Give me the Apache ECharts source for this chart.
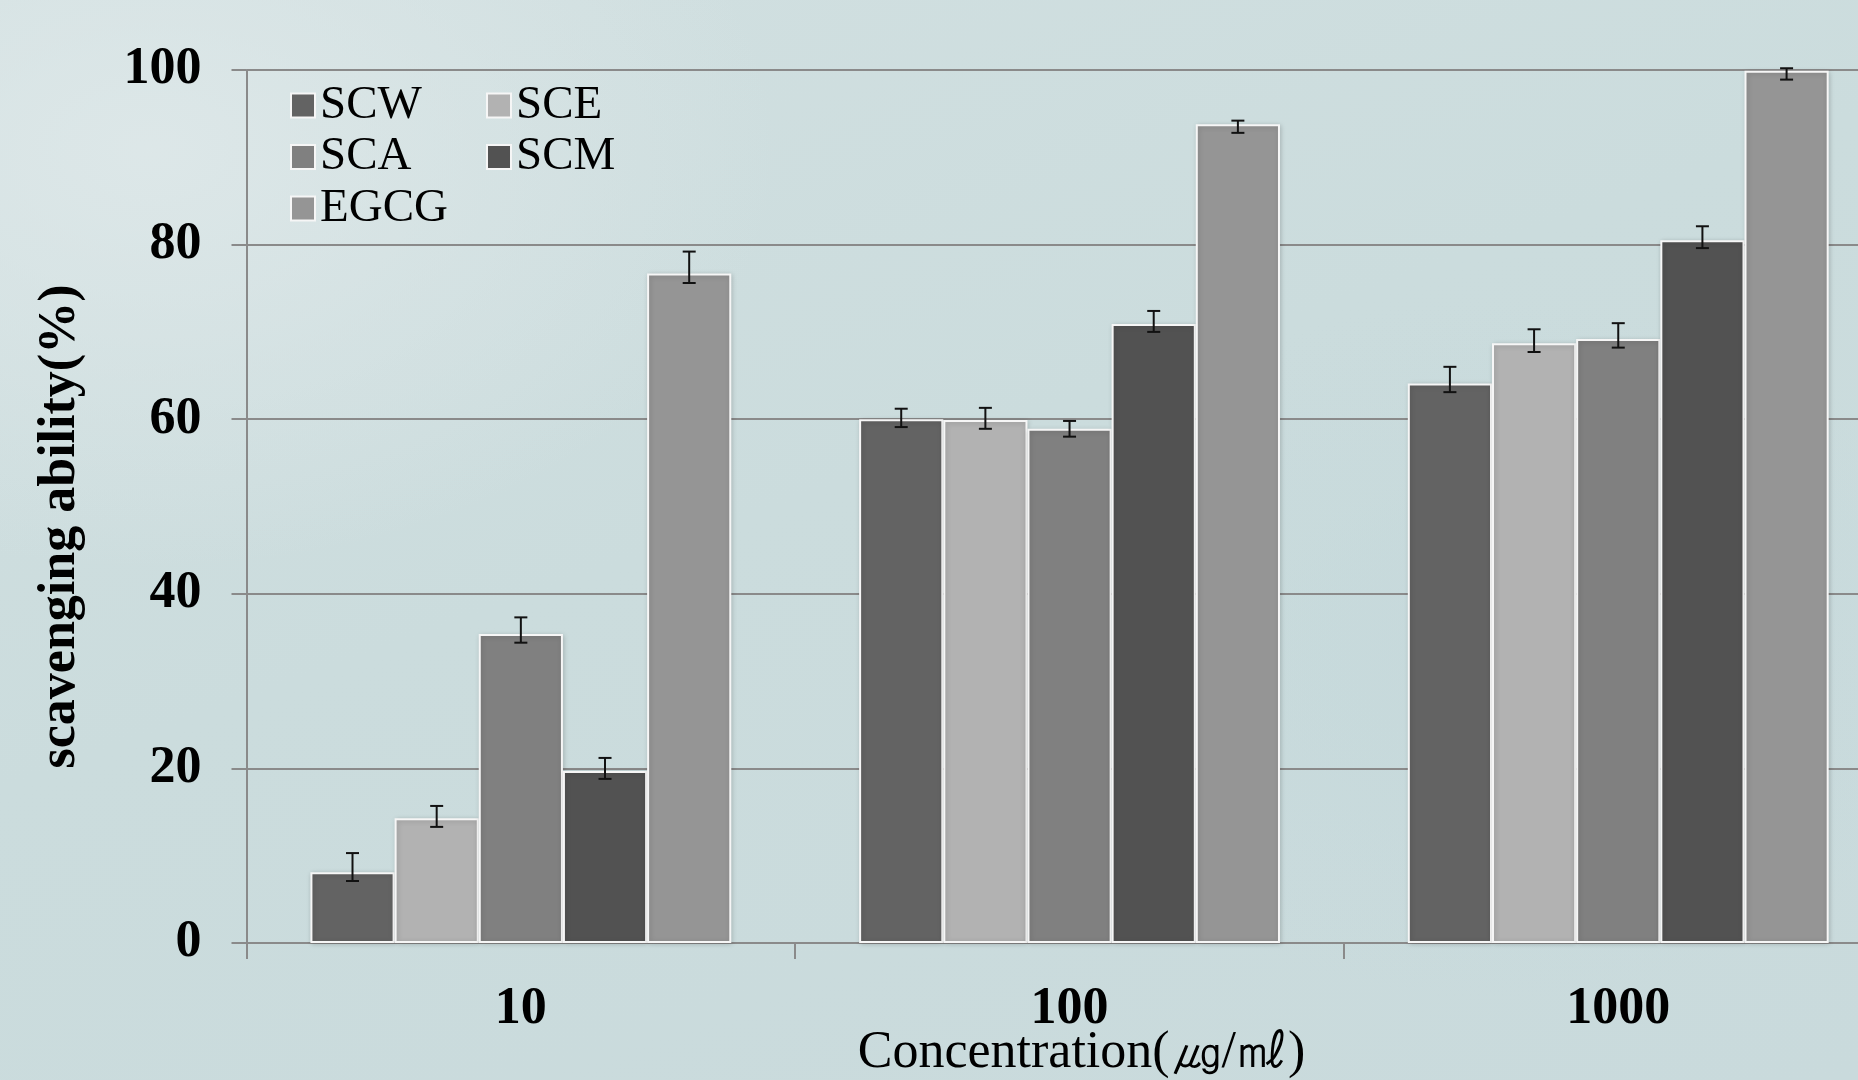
<!DOCTYPE html>
<html>
<head>
<meta charset="utf-8">
<script src="https://cdn.jsdelivr.net/npm/echarts@6/dist/echarts.min.js"></script>
<style>
  html, body { margin: 0; padding: 0; width: 1858px; height: 1080px; overflow: hidden; }
  body {
    background:
      radial-gradient(ellipse 900px 600px at 150px 150px, rgba(222,232,233,0.9), rgba(222,232,233,0) 70%),
      radial-gradient(ellipse 700px 500px at 1500px 650px, rgba(196,216,219,0.7), rgba(196,216,219,0) 70%),
      linear-gradient(160deg, #d2e0e1 0%, #cbdcdd 45%, #c9dadc 100%);
  }
  #chart { width: 1858px; height: 1080px; }
</style>
</head>
<body>
<div id="chart"></div>
<script>
// Concentration groups (µg/mL)
const categories = ['10', '100', '1000'];
const seriesNames = ['SCW', 'SCE', 'SCA', 'SCM', 'EGCG'];

// Scavenging ability (%) per extract
const SCW  = [8.1, 60.0, 64.1];
const SCE  = [14.3, 59.9, 68.7];
const SCA  = [35.4, 58.9, 69.2];
const SCM  = [19.7, 70.9, 80.5];
const EGCG = [76.7, 93.8, 99.9];

// Error bar bounds [low, high] per concentration
const SCW_err  = [[7.1, 10.3], [59.1, 61.2], [63.1, 66.0]];
const SCE_err  = [[13.3, 15.7], [58.9, 61.3], [67.7, 70.3]];
const SCA_err  = [[34.4, 37.3], [58.0, 59.8], [68.2, 71.0]];
const SCM_err  = [[18.8, 21.2], [70.0, 72.4], [79.6, 82.1]];
const EGCG_err = [[75.6, 79.2], [92.8, 94.2], [98.9, 100.2]];

// Y axis ticks
const yTicks = [0, 20, 40, 60, 80, 100];

// Legend columns
const legendLeftCol = ['SCW', 'SCA', 'EGCG'];
const legendRightCol = ['SCE', 'SCM'];

const colors = ['#636363', '#b2b2b2', '#808080', '#525252', '#959595'];
const values = [SCW, SCE, SCA, SCM, EGCG];
const errors = [SCW_err, SCE_err, SCA_err, SCM_err, EGCG_err];

const CAT_GAP = 0.233;   // fraction of each category left empty
const N = seriesNames.length;

const errData = [];
errors.forEach((arr, si) => {
  arr.forEach((b, ci) => errData.push([ci, si, b[0], b[1]]));
});

const serif = '"Liberation Serif", "Times New Roman", serif';

const barSeries = seriesNames.map((name, i) => ({
  name: name,
  type: 'bar',
  data: values[i],
  barGap: '0%',
  barCategoryGap: (CAT_GAP * 100) + '%',
  itemStyle: {
    color: colors[i],
    borderColor: '#f6f6f6',
    borderWidth: 2,
    shadowBlur: 5,
    shadowColor: 'rgba(0,0,0,0.18)',
    shadowOffsetX: 1,
    shadowOffsetY: 1
  },
  emphasis: { disabled: true },
  z: 2
}));

const errorSeries = {
  type: 'custom',
  name: 'error',
  data: errData,
  encode: { x: 0, y: [2, 3] },
  z: 5,
  silent: true,
  renderItem: function (params, api) {
    const ci = api.value(0);
    const si = api.value(1);
    const lo = api.value(2);
    const hi = api.value(3);
    const band = api.size([1, 0])[0];
    const barW = band * (1 - CAT_GAP) / N;
    const cx = api.coord([ci, 0])[0] + (si - (N - 1) / 2) * barW;
    const yLo = api.coord([ci, lo])[1];
    const yHi = api.coord([ci, hi])[1];
    const cap = 6.5;
    const st = { stroke: '#111', lineWidth: 2, fill: null };
    return {
      type: 'group',
      children: [
        { type: 'line', shape: { x1: cx, y1: yLo, x2: cx, y2: yHi }, style: st },
        { type: 'line', shape: { x1: cx - cap, y1: yHi, x2: cx + cap, y2: yHi }, style: st },
        { type: 'line', shape: { x1: cx - cap, y1: yLo, x2: cx + cap, y2: yLo }, style: st }
      ]
    };
  }
};

function legendColumn(names, left) {
  return {
    data: names,
    left: left,
    top: 77,
    orient: 'vertical',
    itemWidth: 24,
    itemHeight: 24,
    itemGap: 4.5,
    icon: 'rect',
    textStyle: { fontFamily: serif, fontSize: 47, color: '#000' },
    selectedMode: false
  };
}

const chart = echarts.init(document.getElementById('chart'), null, { renderer: 'canvas' });

chart.setOption({
  animation: false,
  backgroundColor: 'transparent',
  grid: {
    left: 246.5, top: 70, bottom: 137, right: -34.6,
    containLabel: false,
    outerBoundsMode: 'none'
  },
  legend: [legendColumn(legendLeftCol, 285), legendColumn(legendRightCol, 481)],
  xAxis: {
    type: 'category',
    data: categories,
    boundaryGap: true,
    axisLine: { lineStyle: { color: '#8a8a8a', width: 2 } },
    axisTick: { show: true, length: 16, lineStyle: { color: '#8a8a8a', width: 2 } },
    axisLabel: { fontFamily: serif, fontWeight: 'bold', fontSize: 52, color: '#000', margin: 41 },
    name: 'Concentration(㎍/㎖)',
    nameLocation: 'middle',
    nameGap: 84,
    nameMoveOverlap: false,
    nameTextStyle: { fontFamily: serif, fontSize: 52, color: '#000', padding: [0, 0, 0, 24] }
  },
  yAxis: {
    type: 'value',
    min: 0,
    max: 100,
    interval: 20,
    axisLine: { show: true, lineStyle: { color: '#8a8a8a', width: 2 } },
    axisTick: { show: true, length: 15, lineStyle: { color: '#8a8a8a', width: 2 } },
    splitLine: { show: true, lineStyle: { color: '#8a8a8a', width: 2 } },
    axisLabel: {
      fontFamily: serif, fontWeight: 'bold', fontSize: 52, color: '#000', margin: 45,
      customValues: yTicks
    },
    name: 'scavenging ability(%)',
    nameLocation: 'middle',
    nameGap: 160,
    nameRotate: 90,
    nameMoveOverlap: false,
    nameTextStyle: {
      fontFamily: serif, fontWeight: 'bold', fontSize: 52, color: '#000',
      padding: [0, 40, 0, 0]
    }
  },
  series: barSeries.concat([errorSeries])
});
</script>
</body>
</html>
